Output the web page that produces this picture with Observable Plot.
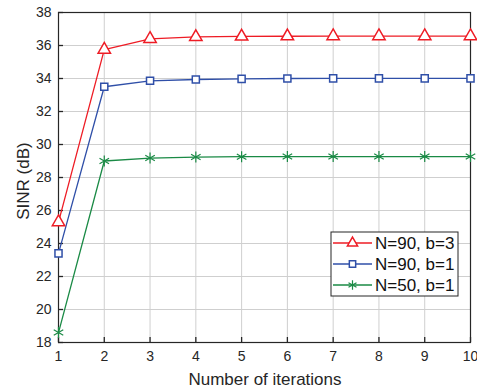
<!DOCTYPE html>
<html>
<head>
<meta charset="utf-8">
<script src="https://cdn.jsdelivr.net/npm/d3@7"></script>
<script src="https://cdn.jsdelivr.net/npm/@observablehq/plot@0.6"></script>
<style>
  html, body { margin: 0; padding: 0; background: #fff; }
  #chart { position: relative; width: 477px; height: 392px; }
  svg { font-family: "Liberation Sans", Arial, sans-serif; }
</style>
</head>
<body>
<div id="chart"></div>
<script>
// Iteration index
const iterations = [1, 2, 3, 4, 5, 6, 7, 8, 9, 10];

// SINR (dB) per iteration for each configuration
const sinrN90b3 = [25.3, 35.75, 36.4, 36.52, 36.55, 36.56, 36.57, 36.57, 36.57, 36.57];
const sinrN90b1 = [23.4, 33.5, 33.86, 33.94, 33.98, 34.0, 34.01, 34.01, 34.01, 34.01];
const sinrN50b1 = [18.6, 29.0, 29.18, 29.24, 29.26, 29.27, 29.27, 29.27, 29.27, 29.27];

const seriesNames = ["N=90, b=3", "N=90, b=1", "N=50, b=1"];
const seriesColors = ["#ee1c25", "#2f4fa8", "#1a8a45"];
const seriesSymbols = ["triangle", "square", "asterisk"];
const seriesValues = [sinrN90b3, sinrN90b1, sinrN50b1];

const xTicks = [1, 2, 3, 4, 5, 6, 7, 8, 9, 10];
const yTicks = [18, 20, 22, 24, 26, 28, 30, 32, 34, 36, 38];

const rows = seriesValues.flatMap((vals, s) =>
  vals.map((v, i) => ({series: seriesNames[s], x: iterations[i], y: v}))
);

const colorScale = {domain: seriesNames, range: seriesColors};
const symbolScale = {domain: seriesNames, range: seriesSymbols};

// marker size and fill per series
const markerR = [4.6, 4.0, 5.2];
const markerFill = ["white", "white", "none"];
const markerWidth = [1.5, 1.5, 1.2];

const plot = Plot.plot({
  width: 477,
  height: 392,
  marginLeft: 58,
  marginRight: 7,
  marginTop: 12,
  marginBottom: 50,
  style: {fontFamily: "'Liberation Sans', Arial, sans-serif", fontSize: "14px", color: "#262626", background: "#fff"},
  x: {domain: [1, 10], label: null},
  y: {domain: [18, 38], label: null},
  color: colorScale,
  symbol: symbolScale,
  marks: [
    Plot.gridX(xTicks, {stroke: "#cfcfcf", strokeOpacity: 1, strokeWidth: 1}),
    Plot.gridY(yTicks, {stroke: "#cfcfcf", strokeOpacity: 1, strokeWidth: 1}),
    Plot.axisX(xTicks, {tickSize: -5, tickPadding: 14, stroke: "#262626", strokeWidth: 1.3, fill: "#262626", fontSize: 14}),
    Plot.axisY(yTicks, {tickSize: -5, tickPadding: 12, stroke: "#262626", strokeWidth: 1.3, fill: "#262626", fontSize: 14}),
    Plot.frame({stroke: "#262626", strokeWidth: 1.2}),
    Plot.line(rows, {x: "x", y: "y", z: "series", stroke: "series", strokeWidth: 1.3}),
    ...seriesNames.map((name, s) =>
      Plot.dot(rows.filter(d => d.series === name), {
        x: "x", y: "y", symbol: "series", stroke: "series",
        fill: markerFill[s], r: markerR[s], strokeWidth: markerWidth[s]
      })
    )
  ]
});

document.getElementById("chart").appendChild(plot);

// Axis titles
const svg = d3.select(plot);
svg.append("text")
  .attr("x", 265).attr("y", 385)
  .attr("text-anchor", "middle")
  .attr("font-size", 17)
  .attr("fill", "#262626")
  .text("Number of iterations");
svg.append("text")
  .attr("transform", "translate(29,181) rotate(-90)")
  .attr("text-anchor", "middle")
  .attr("font-size", 17)
  .attr("fill", "#262626")
  .text("SINR (dB)");

// Legend box in the lower right of the plot area
const lg = svg.append("g").attr("transform", "translate(331,232)");
lg.append("rect")
  .attr("width", 127).attr("height", 64)
  .attr("fill", "white").attr("stroke", "#262626").attr("stroke-width", 1);
const symbolPaths = seriesSymbols.map(s => ({
  triangle: d3.symbolTriangle, square: d3.symbolSquare, asterisk: d3.symbolAsterisk
})[s]);
seriesNames.forEach((name, i) => {
  const cy = 11 + i * 21;
  const row = lg.append("g").attr("transform", `translate(0,${cy})`);
  row.append("line").attr("x1", 2).attr("x2", 41).attr("y1", 0).attr("y2", 0)
    .attr("stroke", seriesColors[i]).attr("stroke-width", 1.3);
  row.append("path")
    .attr("transform", "translate(21.5,0)")
    .attr("d", d3.symbol(symbolPaths[i], [45, 40, 60][i])())
    .attr("fill", markerFill[i])
    .attr("stroke", seriesColors[i]).attr("stroke-width", markerWidth[i]);
  row.append("text").attr("x", 44).attr("y", 0).attr("dy", "0.35em")
    .attr("text-anchor", "start")
    .attr("font-size", 17).attr("fill", "#111")
    .text(name);
});
</script>
</body>
</html>
